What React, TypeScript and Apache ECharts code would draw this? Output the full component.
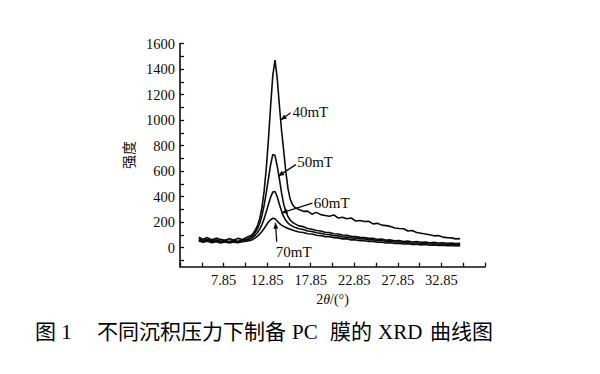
import React, { useEffect, useRef } from "react";
import * as echarts from "echarts";

// 2θ (degrees)
const twoTheta = [
  5.0, 5.5, 6.0, 6.5, 7.0, 7.5, 8.0, 8.5, 9.0, 9.5, 10.0, 10.5,
  11.0, 11.25, 11.5, 11.75, 12.0, 12.25, 12.5, 12.75, 13.0, 13.25, 13.5, 13.75, 14.0, 14.25, 14.5, 14.75, 15.0, 15.25, 15.5, 15.75, 16.0,
  16.5, 17.0, 17.5, 18.0, 18.5, 19.0, 19.5, 20.0, 20.5, 21.0, 21.5, 22.0, 22.5, 23.0, 23.5, 24.0, 24.5, 25.0, 25.5, 26.0, 26.5, 27.0, 27.5,
  28.0, 28.5, 29.0, 29.5, 30.0, 30.5, 31.0, 31.5, 32.0, 32.5, 33.0, 33.5, 34.0, 34.5, 35.0,
];

const i40mT = [
  82, 66, 78, 62, 74, 64, 58, 70, 60, 72, 64, 80,
  94, 112, 138, 172, 228, 312, 440, 620, 850, 1110, 1350, 1470, 1330, 1120, 920, 760, 590, 460, 378, 338, 316,
  298, 284, 286, 262, 276, 258, 252, 246, 256, 232, 238, 226, 232, 208, 212, 204, 206, 186, 190, 176, 172, 166, 154,
  150, 148, 130, 134, 118, 112, 106, 100, 92, 94, 82, 78, 76, 68, 70,
];

const i50mT = [
  70, 56, 66, 54, 62, 50, 58, 48, 57, 50, 60, 66,
  82, 98, 120, 150, 190, 250, 330, 430, 540, 650, 730, 722, 640, 540, 430, 340, 282, 242, 216, 198, 188,
  170, 164, 150, 144, 134, 130, 120, 118, 108, 106, 98, 96, 88, 86, 80, 78, 72, 72, 64, 66, 58, 60, 54,
  56, 48, 52, 44, 48, 42, 44, 38, 42, 36, 38, 34, 36, 32, 34,
];

const i60mT = [
  60, 48, 58, 44, 54, 44, 50, 42, 50, 44, 54, 58,
  70, 82, 98, 118, 145, 180, 225, 280, 340, 395, 435, 440, 400, 340, 286, 242, 212, 192, 178, 168, 160,
  148, 142, 130, 126, 116, 112, 104, 102, 93, 92, 84, 82, 76, 74, 68, 68, 60, 62, 54, 56, 48, 50, 44,
  46, 38, 42, 34, 38, 32, 34, 28, 32, 26, 28, 24, 26, 22, 24,
];

const i70mT = [
  52, 42, 50, 38, 46, 36, 44, 36, 43, 38, 46, 50,
  58, 66, 76, 90, 106, 126, 150, 175, 200, 218, 230, 226, 208, 190, 176, 166, 158, 150, 144, 138, 132,
  122, 118, 108, 106, 96, 94, 86, 86, 78, 76, 68, 68, 60, 60, 54, 54, 48, 48, 42, 42, 36, 38, 32,
  34, 28, 30, 24, 26, 21, 24, 18, 21, 16, 19, 14, 17, 12, 15,
];

const seriesNames = ["40mT", "50mT", "60mT", "70mT"];
const seriesValues = [i40mT, i50mT, i60mT, i70mT];

const xTickValues = [2.85, 5.35, 7.85, 10.35, 12.85, 15.35, 17.85, 20.35, 22.85, 25.35, 27.85, 30.35, 32.85, 35.35, 37.85];
const xLabelValues = [7.85, 12.85, 17.85, 22.85, 27.85, 32.85];
const yTickValues = [-100, 0, 100, 200, 300, 400, 500, 600, 700, 800, 900, 1000, 1100, 1200, 1300, 1400, 1500, 1600];
const yLabelValues = [0, 200, 400, 600, 800, 1000, 1200, 1400, 1600];

// annotation pointers (data coords): label, line start, arrow tip, text anchor
const annLabels = ["40mT", "50mT", "60mT", "70mT"];
const annFrom = [[15.55, 1057], [16.15, 650], [18.05, 348], [13.95, 45]];
const annTo = [[14.4, 1000], [14.1, 560], [14.5, 272], [13.8, 195]];
const annText = [[15.75, 1063], [16.3, 672], [18.2, 351], [13.85, -33]];

const caption = [
  { t: "图 1", x: 35 },
  { t: "不同沉积压力下制备", x: 97 },
  { t: "PC", x: 292 },
  { t: "膜的", x: 330 },
  { t: "XRD", x: 378 },
  { t: "曲线图", x: 430 },
];

const SERIF = '"Liberation Serif", "DejaVu Serif", "Noto Sans CJK SC", serif';
const INK = "#0c0c0c";

export default function App() {
  const ref = useRef<HTMLDivElement>(null);

  useEffect(() => {
    if (!ref.current) return;
    const chart = echarts.init(ref.current, null, { renderer: "svg" });
    const option: any = {
      animation: false,
      backgroundColor: "#ffffff",
      grid: { left: 180, right: 115, top: 43.5, bottom: 107.3, containLabel: false },
      xAxis: {
        type: "value",
        min: 2.85,
        max: 37.85,
        name: "2{i|θ}/(°)",
        nameLocation: "middle",
        nameGap: 24,
        nameTextStyle: {
          color: INK,
          fontFamily: SERIF,
          fontSize: 14,
          rich: { i: { fontStyle: "italic", fontFamily: SERIF, fontSize: 14, color: INK } },
        },
        axisLine: { onZero: false, lineStyle: { color: INK, width: 1.6 } },
        axisTick: { inside: true, length: 4, customValues: xTickValues, lineStyle: { color: INK, width: 1.3 } },
        axisLabel: {
          customValues: xLabelValues,
          margin: 6,
          color: INK,
          fontFamily: SERIF,
          fontSize: 14.5,
          formatter: (v: number) => v.toFixed(2),
        },
        splitLine: { show: false },
      },
      yAxis: {
        type: "value",
        min: -150,
        max: 1600,
        name: "强度",
        nameLocation: "middle",
        nameGap: 40,
        nameRotate: 90,
        nameTextStyle: { color: INK, fontFamily: '"Noto Sans CJK SC", sans-serif', fontSize: 14 },
        axisLine: { onZero: false, lineStyle: { color: INK, width: 1.6 } },
        axisTick: { inside: true, length: 4, customValues: yTickValues, lineStyle: { color: INK, width: 1.3 } },
        axisLabel: {
          customValues: yLabelValues,
          margin: 5,
          color: INK,
          fontFamily: SERIF,
          fontSize: 14.5,
          formatter: (v: number) => String(v),
        },
        splitLine: { show: false },
      },
      series: seriesNames.map((name, k) => ({
        name,
        type: "line",
        showSymbol: false,
        symbol: "none",
        data: twoTheta.map((x, i) => [x, seriesValues[k][i]]),
        lineStyle: { color: INK, width: 1.6 },
      })),
    };
    chart.setOption(option);

    const graphic: any[] = [];
    for (let k = 0; k < annLabels.length; k++) {
      const p1 = chart.convertToPixel({ gridIndex: 0 }, annFrom[k]) as number[];
      const p2 = chart.convertToPixel({ gridIndex: 0 }, annTo[k]) as number[];
      const pt = chart.convertToPixel({ gridIndex: 0 }, annText[k]) as number[];
      graphic.push({
        type: "line",
        shape: { x1: p1[0], y1: p1[1], x2: p2[0], y2: p2[1] },
        style: { stroke: INK, lineWidth: 1.3 },
        z: 10,
      });
      const dx = p2[0] - p1[0];
      const dy = p2[1] - p1[1];
      const len = Math.sqrt(dx * dx + dy * dy) || 1;
      const ux = dx / len;
      const uy = dy / len;
      const bx = p2[0] - ux * 6;
      const by = p2[1] - uy * 6;
      graphic.push({
        type: "polygon",
        shape: {
          points: [
            [p2[0], p2[1]],
            [bx - uy * 2.5, by + ux * 2.5],
            [bx + uy * 2.5, by - ux * 2.5],
          ],
        },
        style: { fill: INK },
        z: 10,
      });
      graphic.push({
        type: "text",
        x: pt[0],
        y: pt[1],
        style: {
          text: annLabels[k],
          fill: INK,
          font: `15px ${SERIF}`,
          align: "left",
          verticalAlign: "middle",
        },
        z: 11,
      });
    }
    caption.forEach((c) => {
      graphic.push({
        type: "text",
        x: c.x,
        y: 332,
        style: {
          text: c.t,
          fill: "#000",
          font: `21px ${SERIF}`,
          align: "left",
          verticalAlign: "middle",
        },
      });
    });
    chart.setOption({ graphic });

    return () => chart.dispose();
  }, []);

  return (
    <div
      ref={ref}
      style={{ position: "fixed", left: 0, top: 0, width: 600, height: 374, background: "#fff" }}
    />
  );
}
